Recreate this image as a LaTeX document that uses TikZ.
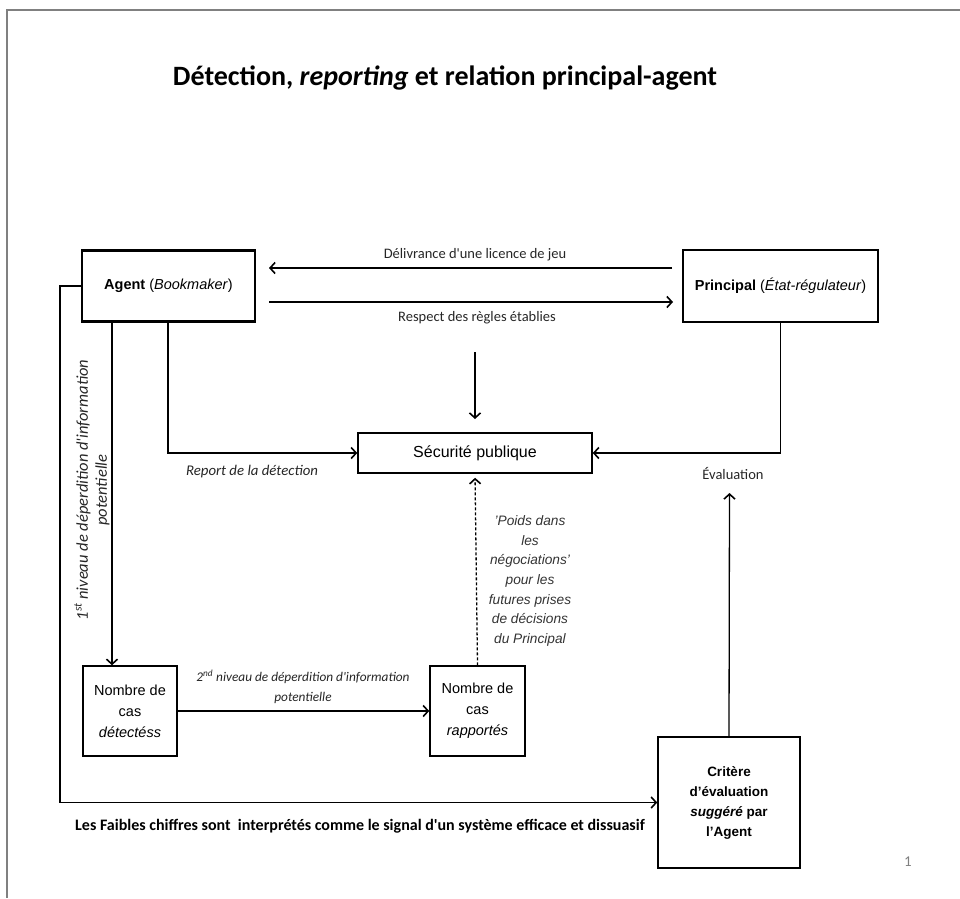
\documentclass[tikz,border=0pt]{standalone}
\usepackage{fontspec}
\setmainfont{Liberation Sans}
\newfontfamily\calfont{Carlito}
\usetikzlibrary{arrows.meta}
\begin{document}
\begin{tikzpicture}[x=1pt,y=-1pt,
  arr/.style={-{Straight Barb[length=5pt,width=11pt,line width=1.6pt]}, line width=1.3pt},
  bigbox/.style={draw, line width=2.8pt, inner sep=0pt, align=center, font=\fontsize{14.5}{20}\selectfont},
  smallbox/.style={draw, line width=1.5pt, inner sep=0pt, align=center, font=\fontsize{14.5}{21}\selectfont},
  lbl/.style={font=\calfont\fontsize{14.5}{19}\selectfont, text=black!85, inner sep=0pt, align=center},
  ilbl/.style={font=\calfont\itshape\fontsize{13.3}{20}\selectfont, text=black!85, inner sep=0pt, align=center},
  alabel/.style={font=\itshape\fontsize{13.7}{19.6}\selectfont, text=black!80, inner sep=0pt, align=center}
]
\useasboundingbox (0,0) rectangle (960,898);
% slide frame
\draw[line width=2pt, black!50] (960,10) -- (7,10) -- (7,898);

% title
\node[font=\calfont\bfseries\fontsize{28}{32}\selectfont, inner sep=0pt] (title) at (445,78)
  {Détection, \textit{reporting} et relation principal-agent};

% boxes
\node[bigbox, minimum width=173pt, minimum height=71pt] (agent) at (168.5,286)
  {\textbf{Agent} (\textit{Bookmaker})};
\node[bigbox, minimum width=195pt, minimum height=72pt] (principal) at (780.5,286)
  {\textbf{Principal} (\textit{État-régulateur})};
\node[smallbox, minimum width=234pt, minimum height=40pt, font=\fontsize{16}{20}\selectfont] (secu) at (475,453)
  {Sécurité publique};
\node[smallbox, minimum width=94pt, minimum height=90pt] (det) at (130,711)
  {Nombre de\\cas\\\textit{détectéss}};
\node[smallbox, minimum width=95pt, minimum height=90pt] (rap) at (477.5,711)
  {Nombre de\\cas\\\textit{rapportés}};
\node[smallbox, minimum width=142pt, minimum height=131pt, font=\bfseries\fontsize{13.5}{20}\selectfont] (crit) at (729,802.5)
  {Critère\\d'évaluation\\\textit{suggéré} par\\l'Agent};

% free ends
\coordinate (delA) at (672,268);
\coordinate (delB) at (269,268);
\coordinate (resA) at (269,302);
\coordinate (resB) at (673,302);
\coordinate (resTop) at (475,352);
\coordinate (resTip) at (475,419);
\coordinate (evalTip) at (729.5,493);
\coordinate (leftX) at (60,0);

% connectors
\draw[arr] (delA) -- (delB);
\draw[arr] (resA) -- (resB);
\draw[arr] (resTop) -- (resTip);
\draw[arr] (agent.south -| 112,0) -- (det.north -| 112,0);
\draw[arr] (agent.south -| 168,0) |- (secu.west);
\draw[arr] (principal.south) |- (secu.east);
\draw[arr] (agent.west) -| (leftX |- crit.west) -- (crit.west);
\draw[arr] (det.east) -- (rap.west);
\draw[arr, dashed, dash pattern=on 3pt off 2pt, shorten >=4pt] (rap.north) -- (secu.south);
\draw[arr] (crit.north) -- (evalTip);

% labels
\node[lbl] (ldel) at (475,255) {Délivrance d'une licence de jeu};
\node[lbl] (lres) at (477,318) {Respect des règles établies};
\node[lbl, font=\calfont\itshape\fontsize{14.8}{19}\selectfont] (lrep) at (252,472) {Report de la détection};
\node[lbl] (leval) at (733,473) {Évaluation};
\node[ilbl] (l2) at (303,687) {2\textsuperscript{nd} niveau de déperdition d'information\\potentielle};
\node[ilbl, rotate=90, font=\calfont\itshape\fontsize{16.5}{19}\selectfont] (l1) at (92,490)
  {1\textsuperscript{st} niveau de déperdition d'information\\potentielle};
\node[alabel] (lpoids) at (530,581)
  {'Poids dans\\les\\négociations'\\pour les\\futures prises\\de décisions\\du Principal};
\node[font=\calfont\bfseries\fontsize{16}{18}\selectfont, inner sep=0pt] (lbottom) at (360,826)
  {Les Faibles chiffres sont\ \ interprétés comme le signal d'un système efficace et dissuasif};
\node[font=\calfont\fontsize{15}{16}\selectfont, text=black!50, inner sep=0pt] (pnum) at (908,862) {1};
\end{tikzpicture}
\end{document}
